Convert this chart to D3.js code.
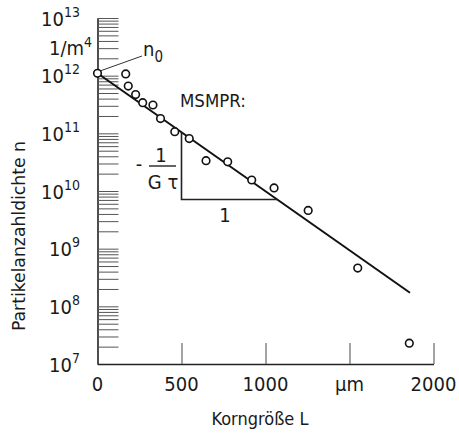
<!DOCTYPE html>
<html>
<head>
<meta charset="utf-8">
<script src="https://cdn.jsdelivr.net/npm/d3@7"></script>
<style>
  body { margin: 0; background: #fff; }
  text { font-family: "DejaVu Sans Condensed", "DejaVu Sans", sans-serif; fill: #1a1a1a; }
</style>
</head>
<body>
<svg id="chart" width="459" height="434"></svg>
<script>
// measured points: grain size L (µm) vs population density n (1/m^4)
const sizes = [0, 168, 183, 227, 269, 330, 375, 460, 546, 646, 775, 918, 1051, 1254, 1549, 1856];
const densities = [1.1e12, 1.07e12, 6.6e11, 4.7e11, 3.4e11, 3.1e11, 1.8e11, 1.07e11, 8.1e10,
  3.35e10, 3.2e10, 1.55e10, 1.13e10, 4.6e9, 4.6e8, 2.3e7];

// MSMPR fit line (start/end)
const fitL = [0, 1860];
const fitN = [1.1e12, 1.72e8];

const xTicks = [0, 500, 1000, 1500, 2000];
const xTickLabels = ["0", "500", "1000", "\u00b5m", "2000"];
const decades = [7, 8, 9, 10, 11, 12, 13];

const svg = d3.select("#chart");

const x = d3.scaleLinear().domain([0, 2000]).range([97.5, 433.5]);
const y = d3.scaleLog().domain([1e7, 1e13]).range([364, 18]);

// y axis minor ticks: k * 10^n
const yTicks = [];
decades.forEach(n => {
  if (n === 13) { yTicks.push(1e13); return; }
  for (let k = 1; k <= 9; k++) yTicks.push(k * Math.pow(10, n));
});

const yAxis = svg.append("g")
  .attr("transform", `translate(${x(0)},0)`)
  .call(d3.axisRight(y).tickValues(yTicks).tickSize(21).tickSizeOuter(0).tickFormat(""));
yAxis.select(".domain").attr("stroke", "#222").attr("stroke-width", 1.6);
yAxis.selectAll(".tick line").attr("stroke", "#555").attr("stroke-width", 1);

const xAxis = svg.append("g")
  .attr("transform", `translate(0,${y(1e7)})`)
  .call(d3.axisTop(x).tickValues(xTicks.slice(1)).tickSize(21).tickSizeOuter(0).tickFormat(""));
xAxis.select(".domain").attr("stroke", "#222").attr("stroke-width", 1.6);
xAxis.selectAll(".tick line").attr("stroke", "#666").attr("stroke-width", 1.2);

// x tick labels
svg.append("g").selectAll("text")
  .data(xTicks)
  .join("text")
  .attr("x", d => x(d))
  .attr("y", 391)
  .attr("text-anchor", "middle")
  .attr("font-size", 20)
  .text((d, i) => xTickLabels[i]);

// y decade labels
const ylab = svg.append("g").selectAll("text")
  .data(decades)
  .join("text")
  .attr("x", 80)
  .attr("y", d => y(Math.pow(10, d)) + 7.5)
  .attr("text-anchor", "end")
  .attr("font-size", 20);
ylab.append("tspan").text("10");
ylab.append("tspan")
  .attr("dy", -9)
  .attr("font-size", 14)
  .text(d => d);

// unit
const unit = svg.append("text")
  .attr("x", 49)
  .attr("y", 55)
  .attr("font-size", 20);
unit.append("tspan").text("1/m");
unit.append("tspan").attr("dy", -8).attr("font-size", 14).text("4");

// axis titles
svg.append("text")
  .attr("x", 260)
  .attr("y", 425)
  .attr("text-anchor", "middle")
  .attr("font-size", 18)
  .text("Korngr\u00f6\u00dfe  L");

svg.append("text")
  .attr("transform", "translate(25,236) rotate(-90)")
  .attr("text-anchor", "middle")
  .attr("font-size", 18)
  .attr("textLength", 190)
  .attr("lengthAdjust", "spacingAndGlyphs")
  .text("Partikelanzahldichte  n");

// fit line
svg.append("line")
  .attr("x1", x(fitL[0])).attr("y1", y(fitN[0]))
  .attr("x2", x(fitL[1])).attr("y2", y(fitN[1]))
  .attr("stroke", "#111")
  .attr("stroke-width", 2);

// slope triangle: vertical at L=500 down to the line's crossing level
const slope = (Math.log10(fitN[1]) - Math.log10(fitN[0])) / (fitL[1] - fitL[0]);
const fitAt = L => Math.pow(10, Math.log10(fitN[0]) + slope * L);
const triL0 = 500, triL1 = 1070;
svg.append("path")
  .attr("d", `M${x(triL0)},${y(fitAt(triL0))}V${y(fitAt(triL1))}H${x(triL1)}`)
  .attr("fill", "none")
  .attr("stroke", "#222")
  .attr("stroke-width", 1.6);

svg.append("text").attr("x", 225).attr("y", 222).attr("text-anchor", "middle").attr("font-size", 20).text("1");

// -1/(G tau)
svg.append("text").attr("x", 139).attr("y", 171).attr("text-anchor", "middle").attr("font-size", 20).text("-");
svg.append("text").attr("x", 161).attr("y", 162).attr("text-anchor", "middle").attr("font-size", 20).text("1");
svg.append("line").attr("x1", 149).attr("x2", 176).attr("y1", 166).attr("y2", 166)
  .attr("stroke", "#222").attr("stroke-width", 1.4);
svg.append("text").attr("x", 163).attr("y", 189).attr("text-anchor", "middle").attr("font-size", 20).text("G \u03c4");

svg.append("text").attr("x", 180).attr("y", 107).attr("font-size", 18.5).text("MSMPR:");

// n0 label with leader
svg.append("line").attr("x1", 100).attr("y1", 71).attr("x2", 142).attr("y2", 56)
  .attr("stroke", "#333").attr("stroke-width", 1);
const n0 = svg.append("text").attr("x", 143).attr("y", 56).attr("font-size", 20);
n0.append("tspan").text("n");
n0.append("tspan").attr("dy", 6).attr("font-size", 15).text("0");

// data points
svg.append("g").selectAll("circle")
  .data(sizes)
  .join("circle")
  .attr("cx", d => x(d))
  .attr("cy", (d, i) => y(densities[i]))
  .attr("r", 3.8)
  .attr("fill", "#fff")
  .attr("stroke", "#111")
  .attr("stroke-width", 1.6);
</script>
</body>
</html>
